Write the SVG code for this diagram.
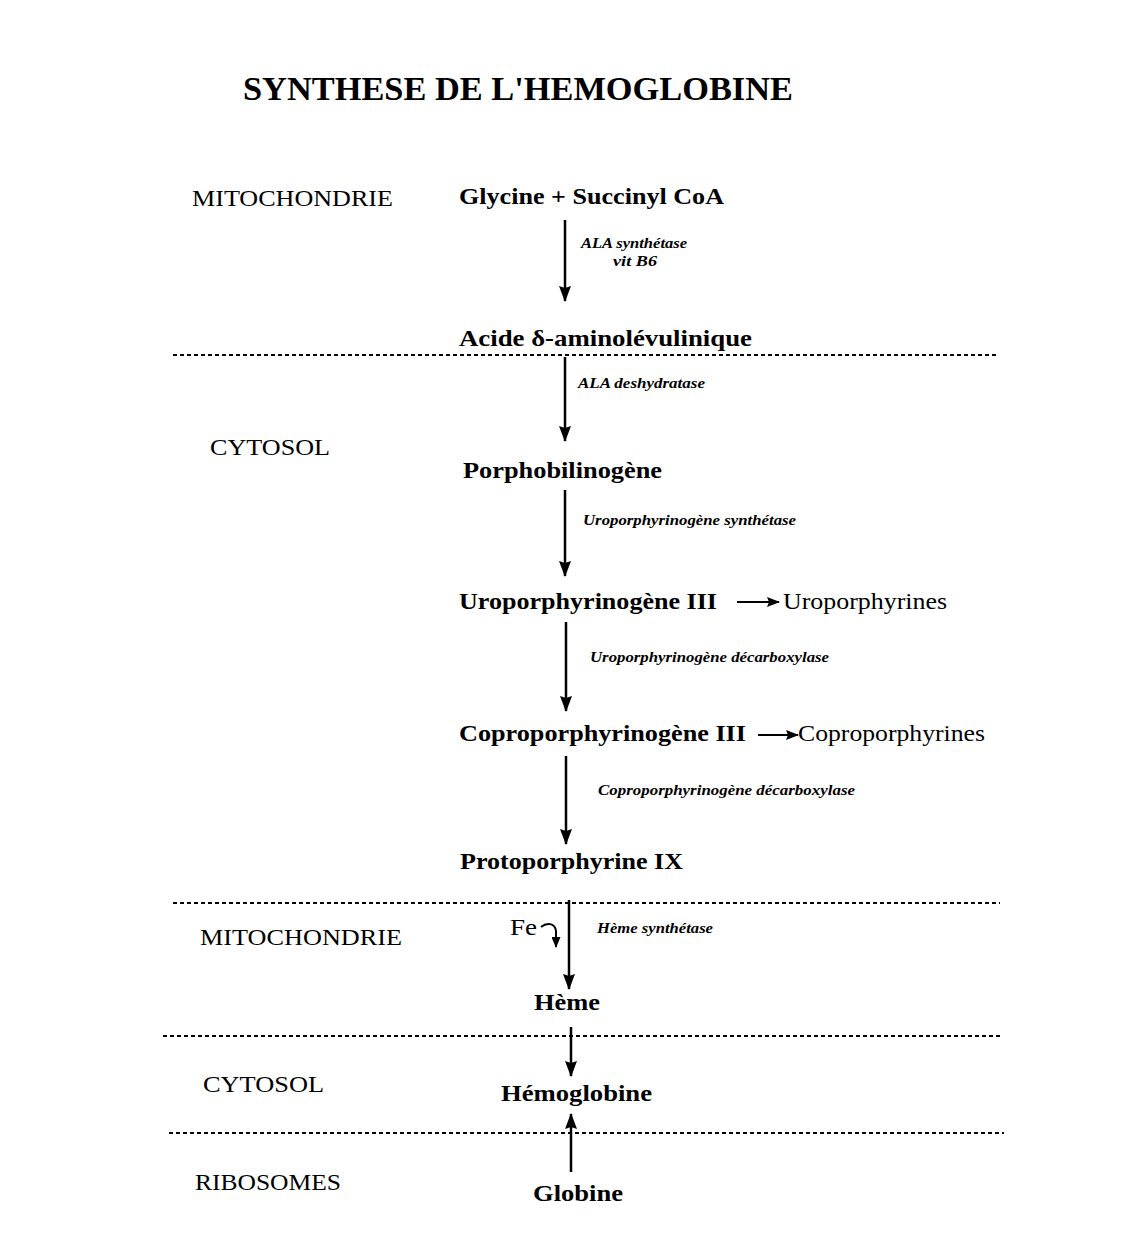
<svg xmlns="http://www.w3.org/2000/svg" width="1142" height="1252" viewBox="0 0 1142 1252">
<defs>
<marker id="ah" viewBox="0 0 16 12" refX="15" refY="6" markerWidth="16" markerHeight="12" orient="auto" markerUnits="userSpaceOnUse">
<path d="M0,0 L16,6 L0,12 L2,6 z" fill="#000"/>
</marker>
<marker id="ahs" viewBox="0 0 13 10" refX="12" refY="5" markerWidth="13" markerHeight="10" orient="auto" markerUnits="userSpaceOnUse">
<path d="M0,0 L13,5 L0,10 L2,5 z" fill="#000"/>
</marker>
<marker id="ahf" viewBox="0 0 11 9" refX="10" refY="4.5" markerWidth="11" markerHeight="9" orient="auto" markerUnits="userSpaceOnUse">
<path d="M0,0 L11,4.5 L0,9 z" fill="#000"/>
</marker>
</defs>
<style>
text{font-family:"Liberation Serif","Times New Roman",serif;fill:#000}
.title{font-size:33px;font-weight:bold}
.zone{font-size:23px}
.node{font-size:24px;font-weight:bold}
.side{font-size:24px}
.enz{font-size:14px;font-style:italic;font-weight:bold}
.arr{stroke:#000;stroke-width:2.5;fill:none;marker-end:url(#ah)}
.sarr{stroke:#000;stroke-width:2;fill:none;marker-end:url(#ahs)}
.dash{stroke:#000;stroke-width:2;stroke-dasharray:4 3;fill:none}
</style>
<rect width="1142" height="1252" fill="#fff"/>
<text class="title" x="243" y="100" textLength="550" lengthAdjust="spacingAndGlyphs">SYNTHESE DE L'HEMOGLOBINE</text>

<g id="zones">
<text class="zone" x="192" y="206" textLength="201" lengthAdjust="spacingAndGlyphs">MITOCHONDRIE</text>
<text class="zone" x="210" y="455" textLength="120" lengthAdjust="spacingAndGlyphs">CYTOSOL</text>
<text class="zone" x="200" y="945" textLength="202" lengthAdjust="spacingAndGlyphs">MITOCHONDRIE</text>
<text class="zone" x="203" y="1092" textLength="121" lengthAdjust="spacingAndGlyphs">CYTOSOL</text>
<text class="zone" x="195" y="1190" textLength="146" lengthAdjust="spacingAndGlyphs">RIBOSOMES</text>
</g>

<g id="separators">
<line class="dash" x1="173" y1="355" x2="998" y2="355"/>
<line class="dash" x1="173" y1="903" x2="1000" y2="903"/>
<line class="dash" x1="163" y1="1036" x2="1002" y2="1036"/>
<line class="dash" x1="169" y1="1133" x2="1004" y2="1133"/>
</g>

<g id="n-glycine"><text class="node" x="459" y="204" textLength="265" lengthAdjust="spacingAndGlyphs">Glycine + Succinyl CoA</text></g>
<g id="n-ala"><text class="node" x="459" y="346" textLength="293" lengthAdjust="spacingAndGlyphs">Acide  δ-aminolévulinique</text></g>
<g id="n-pbg"><text class="node" x="463" y="478" textLength="199" lengthAdjust="spacingAndGlyphs">Porphobilinogène</text></g>
<g id="n-uro3"><text class="node" x="459" y="609" textLength="258" lengthAdjust="spacingAndGlyphs">Uroporphyrinogène III</text></g>
<g id="n-uro"><text class="side" x="783" y="609" textLength="164" lengthAdjust="spacingAndGlyphs">Uroporphyrines</text></g>
<g id="n-copro3"><text class="node" x="459" y="741" textLength="287" lengthAdjust="spacingAndGlyphs">Coproporphyrinogène III</text></g>
<g id="n-copro"><text class="side" x="798" y="741" textLength="187" lengthAdjust="spacingAndGlyphs">Coproporphyrines</text></g>
<g id="n-proto"><text class="node" x="460" y="869" textLength="223" lengthAdjust="spacingAndGlyphs">Protoporphyrine IX</text></g>
<g id="n-fe"><text class="side" x="510" y="935" textLength="27" lengthAdjust="spacingAndGlyphs">Fe</text></g>
<g id="n-heme"><text class="node" x="534" y="1010" textLength="66" lengthAdjust="spacingAndGlyphs">Hème</text></g>
<g id="n-hb"><text class="node" x="501" y="1101" textLength="151" lengthAdjust="spacingAndGlyphs">Hémoglobine</text></g>
<g id="n-globine"><text class="node" x="533" y="1201" textLength="90" lengthAdjust="spacingAndGlyphs">Globine</text></g>

<g id="connectors">
<line class="arr" x1="565" y1="220" x2="565" y2="301"/>
<line class="arr" x1="565" y1="357" x2="565" y2="441"/>
<line class="arr" x1="565" y1="490" x2="565" y2="576"/>
<line class="arr" x1="566" y1="622" x2="566" y2="711"/>
<line class="arr" x1="566" y1="756" x2="566" y2="844"/>
<line class="arr" x1="569" y1="900" x2="569" y2="989"/>
<line class="arr" x1="571" y1="1027" x2="571" y2="1076"/>
<line class="arr" x1="571" y1="1172" x2="571" y2="1114"/>
<line class="sarr" x1="737" y1="602" x2="779" y2="602"/>
<line class="sarr" x1="758" y1="735" x2="798" y2="735"/>
<path d="M541,927 C547,922 555,923 556,931 L556,947" style="stroke:#000;stroke-width:2;fill:none;marker-end:url(#ahf)"/>
<text class="enz" x="581" y="248" textLength="106" lengthAdjust="spacingAndGlyphs">ALA synthétase</text>
<text class="enz" x="613" y="266" textLength="44" lengthAdjust="spacingAndGlyphs">vit B6</text>
<text class="enz" x="578" y="388" textLength="127" lengthAdjust="spacingAndGlyphs">ALA deshydratase</text>
<text class="enz" x="583" y="525" textLength="213" lengthAdjust="spacingAndGlyphs">Uroporphyrinogène synthétase</text>
<text class="enz" x="590" y="662" textLength="239" lengthAdjust="spacingAndGlyphs">Uroporphyrinogène décarboxylase</text>
<text class="enz" x="598" y="795" textLength="257" lengthAdjust="spacingAndGlyphs">Coproporphyrinogène décarboxylase</text>
<text class="enz" x="597" y="933" textLength="116" lengthAdjust="spacingAndGlyphs">Hème synthétase</text>
</g>
</svg>
